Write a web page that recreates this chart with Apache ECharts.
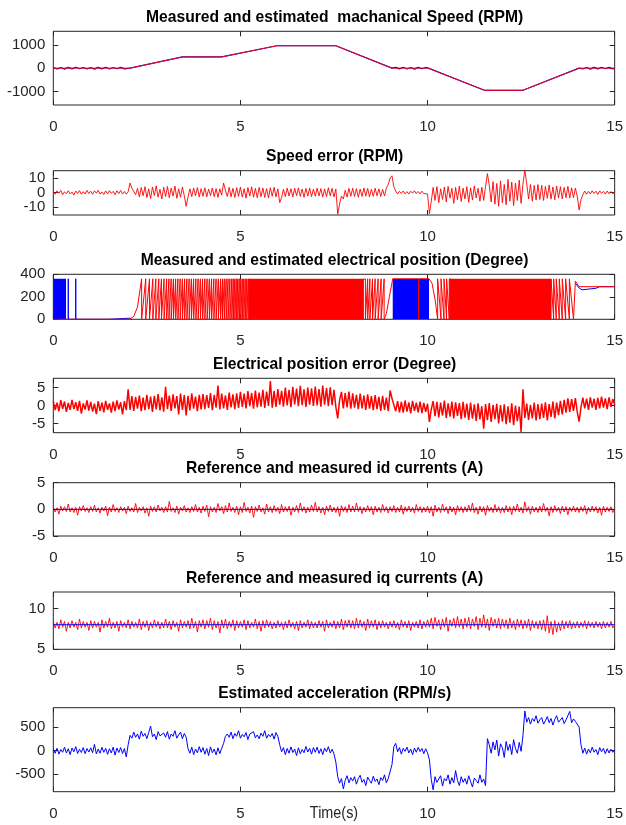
<!DOCTYPE html>
<html><head><meta charset="utf-8">
<script src="https://cdn.jsdelivr.net/npm/echarts@6/dist/echarts.min.js"></script>
<style>html,body{margin:0;padding:0;background:#fff}#c{width:626px;height:825px}</style>
</head><body><div id="c"></div>
<script>
// ---------------- DATA ----------------
const FINE_STEP = 0.05;   // sample step of the dense traces (s)
const timeTicks = [0, 5, 10, 15];

const titles = [
  'Measured and estimated  machanical Speed (RPM)',
  'Speed error (RPM)',
  'Measured and estimated electrical position (Degree)',
  'Electrical position error (Degree)',
  'Reference and measured id currents (A)',
  'Reference and measured iq currents (A)',
  'Estimated acceleration (RPM/s)'
];
const xAxisTitle = 'Time(s)';

const yTicks1 = [-1000, 0, 1000];
const yTicks2 = [-10, 0, 10];
const yTicks3 = [0, 200, 400];
const yTicks4 = [-5, 0, 5];
const yTicks5 = [-5, 0, 5];
const yTicks6 = [5, 10];
const yTicks7 = [-500, 0, 500];

// 1: speed (RPM)
const speedEstTime = [0, 2.05, 3.45, 4.5, 5.97, 7.55, 9.05, 10.02, 11.52, 12.55, 14.05, 15];
const speedEst     = [0, 0, 480, 480, 960, 960, 0, 0, -950, -950, 0, 0];
const speedMeasTime = [0,0.1,0.2,0.3,0.4,0.5,0.6,0.7,0.8,0.9,1.0,1.1,1.2,1.3,1.4,1.5,1.6,1.7,1.8,1.9,2.05,3.45,4.5,5.97,7.55,9.05,9.15,9.25,9.35,9.45,9.55,9.65,9.75,9.85,9.95,10.02,11.52,12.55,14.05,14.15,14.25,14.35,14.45,14.55,14.65,14.75,14.85,14.95,15];
const speedMeas = [30,-35,25,-40,35,-30,40,-25,30,-35,25,-40,35,-30,40,-35,30,-25,35,-30,0,480,480,960,960,0,35,-30,40,-35,30,-40,35,-25,30,0,-950,-950,0,-35,30,-40,35,-30,40,-25,35,-30,0];

// 2: speed error (RPM), every 0.05 s
const speedError = [
 0.8,-1.2,1.1,-0.6,1.4,-1.5,0.5,-0.9,1.2,-1.1,0.3,-1.8,1.0,-0.7,1.3,-1.2,0.6,-1.0,1.5,-0.8,
 0.9,-1.3,1.2,-0.5,1.6,-1.1,0.4,-1.4,1.1,-0.9,1.3,-0.6,0.8,-1.5,1.2,-0.8,1.4,-1.0,0.7,-1.2,
 0.5,6.5,3.0,4.2,-1.5,2.8,-3.0,3.5,-2.2,4.0,-3.5,2.5,-4.2,3.8,-2.0,4.6,-3.2,2.2,-4.5,3.6,
 -2.8,4.2,-3.6,3.0,-2.5,4.4,-4.0,2.6,-3.3,3.8,-2.4,-9.5,-3.0,2.5,-2.8,3.0,-2.2,3.4,-3.1,2.6,
 -2.6,3.2,-3.0,2.4,-2.2,3.1,-2.9,2.7,-3.4,2.5,-1.8,6.5,1.5,-2.8,3.6,-3.0,2.9,-3.5,3.3,-2.7,
 3.8,-3.2,2.6,-3.9,3.4,-2.5,3.9,-3.3,2.8,-3.6,3.5,-2.9,3.1,-3.4,2.7,-3.8,3.3,-2.6,3.6,-3.0,
 2.5,-7.0,-3.5,2.2,-2.8,3.0,-2.4,2.6,-3.1,2.9,-2.2,3.2,-2.7,2.4,-3.3,2.8,-2.5,3.1,-2.9,2.3,
 -2.6,3.0,-2.4,2.7,-3.2,2.5,-2.8,3.3,-2.3,2.9,-3.0,2.4,-15.0,-8.0,-2.5,-4.5,1.5,-3.2,2.8,-2.6,
 3.0,-2.8,2.6,-3.3,2.4,-2.7,3.1,-2.5,2.8,-3.0,2.2,-2.6,2.9,-2.3,2.5,-2.8,2.1,-2.4,3.0,5.5,
 10.0,11.5,4.0,1.0,-1.0,0.8,-0.6,1.0,-0.9,0.6,-1.1,0.9,-0.5,1.2,-0.8,0.7,-1.0,0.9,-0.7,0.6,
 -1.0,-14.5,-6.0,3.5,-5.5,4.0,-7.0,2.5,-4.8,3.8,-6.5,4.2,-3.9,2.8,-7.5,3.5,-5.0,4.4,-6.2,3.0,
 -4.5,4.0,-6.8,3.2,-5.2,4.5,-3.8,2.9,-6.0,3.7,-5.5,4.1,13.0,5.0,-6.5,7.5,-8.0,6.2,-9.5,8.0,
 -7.0,5.5,-8.5,9.0,-6.0,7.2,-9.0,6.5,-5.5,8.5,-7.5,5.8,15.5,6.0,-4.5,5.5,-6.0,4.8,-5.2,5.5,
 -4.8,5.0,-5.5,4.2,-4.0,5.2,-4.6,3.8,-5.0,4.5,-3.8,4.0,-4.4,3.5,-3.6,4.2,-3.9,3.2,-3.5,3.0,
 -2.5,-12.0,-5.0,-1.5,1.0,-1.2,0.8,-1.0,1.2,-0.7,0.9,-1.3,1.1,-0.6,0.8,-1.1,1.0,-0.9,0.7,-1.0,
 0.5
];

// 3: electrical position (degree)
const posRedLeadT = [0, 2.04, 2.15, 2.25];
const posRedLeadV = [0, 0, 25, 110];
const posUpWraps = [2.36,2.47,2.57,2.66,2.74,2.82,2.89,2.96,3.03,3.09,3.15,3.21,3.27,3.33,3.39,3.45,3.51,3.57,3.63,3.69,3.75,3.81,3.87,3.93,3.99,4.05,4.11,4.17,4.23,4.29,4.35,4.41,4.47,4.52,4.57,4.62,4.67,4.72,4.77,4.81,4.85,4.89,4.93,4.97,5.01,5.05,5.09,5.13,5.17,5.21,8.34,8.40,8.46,8.53,8.60,8.68,8.76,8.84];
const posRedMidT = [8.9, 8.98, 9.07, 9.76, 9.76, 9.765, 10.04, 10.12, 10.2, 10.27];
const posRedMidV = [50, 200, 360, 360, 0, 360, 360, 320, 180, 0];
const posDownWraps = [10.27,10.36,10.44,10.51,10.58,13.3,13.37,13.44,13.52,13.6,13.69,13.79];
const posRedTailT = [13.9, 13.95, 14.05, 15];
const posRedTailV = [0, 340, 290, 290];
const posRedDenseStart = [5.21, 10.58];
const posRedDenseEnd   = [8.3, 13.3];
const posWrapTop = 360;
const posBlueBlockStart = [0, 9.07];
const posBlueBlockEnd   = [0.34, 10.04];
const posBlueSpikes = [0.4, 0.6];
const posBlueLowT = [0.6, 1.47, 1.47, 2.04, 2.1];
const posBlueLowV = [0, 0, 10, 10, 0];
const posBlueTailT = [13.95, 14.05, 14.1, 14.13, 14.16, 14.5, 14.6, 15];
const posBlueTailV = [320, 278, 278, 262, 278, 276, 290, 290];

// 4: electrical position error (degree), every 0.05 s
const posError = [
 1.2,-1.3,0.8,-1.6,1.5,-0.9,1.1,-1.8,0.7,-1.2,1.6,-1.0,0.9,-1.5,1.3,-2.3,0.6,-1.1,1.4,-1.4,
 1.0,-1.7,0.5,-2.4,1.2,-1.5,0.8,-1.9,1.3,-1.2,0.6,-2.0,1.1,-1.6,1.4,-1.1,0.9,-2.5,1.2,-1.3,
 4.5,-1.2,2.6,-1.5,2.4,-0.9,2.8,-1.6,2.2,-1.3,3.0,-1.0,2.5,-1.8,2.7,-1.1,3.2,-1.4,2.3,-1.7,
 5.2,-1.0,2.8,-1.5,3.1,-0.8,2.6,-2.5,3.3,-1.2,2.9,-2.8,2.7,-1.4,3.4,-0.9,2.5,-1.6,3.0,-1.1,
 3.2,-1.0,2.9,-0.7,3.5,-1.3,3.0,-0.6,5.6,-1.1,3.3,-0.8,2.8,-1.2,3.6,-0.5,3.1,-1.0,3.4,-0.7,
 3.8,-0.4,3.3,-0.8,4.0,-0.2,3.5,-0.9,4.2,-0.5,3.6,-0.3,4.4,-0.7,3.9,-0.1,6.8,-0.6,4.1,-0.4,
 4.6,0.2,4.1,-0.3,5.0,0.0,4.4,-0.5,5.2,0.3,4.7,-0.2,5.5,0.1,4.5,-0.4,5.0,0.2,4.8,-0.1,
 5.3,0.0,4.6,-0.3,5.6,0.2,4.9,-0.2,5.1,0.1,4.4,-0.4,-3.6,1.5,3.8,-0.8,3.5,-0.5,3.9,-0.9,
 3.4,-0.6,3.0,-1.0,3.3,-0.8,2.8,-1.2,3.1,-0.9,2.6,-1.3,2.9,-1.0,2.4,-1.5,2.7,-1.2,2.2,-1.6,
 4.2,2.0,1.5,-1.6,1.2,-1.9,1.0,-2.0,1.4,-1.7,0.9,-2.2,1.3,-1.5,0.8,-1.9,1.1,-2.1,0.7,-1.8,
 0.5,-4.6,-1.0,1.2,-3.0,1.0,-3.3,0.8,-2.8,1.4,-3.5,0.6,-3.1,1.1,-3.6,0.9,-2.9,0.7,-3.8,1.0,
 -3.4,0.5,-4.0,0.8,-3.7,0.3,-4.3,0.6,-3.9,-0.2,-6.5,0.4,-4.1,0.7,-4.6,0.2,-3.8,0.5,-5.0,0.1,
 -4.5,0.3,-5.2,-0.2,-4.8,0.6,-5.5,0.0,-4.4,-0.3,-7.4,4.5,-3.5,0.5,-4.0,0.2,-3.6,0.8,-4.2,0.4,
 -3.8,0.5,-3.5,0.9,-4.2,0.4,-3.2,1.1,-3.6,0.8,-2.7,1.3,-2.5,1.6,-2.0,2.0,-1.8,1.8,-1.5,2.1,
 -1.8,-4.5,-0.5,2.2,-0.8,1.9,-1.2,2.3,-0.6,1.9,-1.2,2.1,-0.8,2.5,-0.6,2.0,-1.0,2.3,-0.4,1.8,
 0.2
];

// 5: id currents (A), every 0.05 s
const idRef = 0;
const idMeas = [
 0.4,-0.5,0.3,-0.9,0.6,-0.3,0.5,-0.4,1.0,-0.5,0.3,-0.6,0.4,-1.1,0.5,-0.3,0.7,-0.4,0.3,-0.6,
 0.5,-0.4,0.8,-0.5,0.3,-0.7,0.4,-0.3,0.6,-1.2,0.4,-0.5,0.9,-0.4,0.3,-0.6,0.5,-0.3,0.4,-0.8,
 0.6,-0.4,0.3,-0.5,1.1,-0.6,0.4,-0.3,0.5,-0.7,0.3,-1.3,0.6,-0.4,0.5,-0.5,0.8,-0.3,0.4,-0.6,
 0.5,-0.5,1.5,-0.4,0.3,-0.6,0.6,-0.9,0.4,-0.3,0.7,-0.5,0.3,-0.6,0.5,-0.4,0.9,-0.5,0.4,-0.7,
 0.6,-0.4,0.8,-1.4,0.5,-0.5,0.4,-0.6,1.1,-0.3,0.5,-0.8,0.7,-0.5,1.2,-0.4,0.4,-0.6,0.6,-1.0,
 0.5,-0.6,1.3,-0.4,0.4,-0.7,0.6,-1.5,0.5,-0.4,0.8,-0.5,0.3,-0.9,1.0,-0.5,0.5,-0.6,0.7,-0.4,
 0.4,-0.8,0.9,-0.5,0.5,-0.4,0.6,-1.1,0.4,-0.5,0.7,-0.6,1.2,-0.4,0.5,-0.7,0.4,-0.5,0.8,-0.4,
 1.3,-0.5,0.5,-0.7,0.4,-1.0,0.6,-0.4,0.8,-0.5,0.4,-0.6,0.5,-1.3,0.7,-0.4,0.5,-0.6,0.9,-0.5,
 0.6,-0.5,1.2,-0.4,0.5,-0.8,0.4,-0.5,0.7,-0.4,0.5,-1.0,0.6,-0.5,0.4,-0.6,0.9,-0.4,0.5,-0.7,
 0.5,-0.4,0.7,-0.6,0.4,-0.5,0.8,-0.9,0.5,-0.4,0.6,-0.5,0.4,-0.7,0.9,-0.4,0.5,-0.6,0.4,-0.5,
 0.6,-0.7,0.5,-1.3,0.8,-0.5,0.4,-0.6,1.0,-0.4,0.5,-0.8,0.6,-0.5,0.4,-1.0,0.7,-0.4,0.5,-0.6,
 0.5,-0.5,0.8,-0.4,1.2,-0.6,0.4,-0.9,0.6,-0.5,0.5,-1.1,0.7,-0.4,0.4,-0.6,0.9,-0.5,0.5,-0.7,
 0.4,-0.6,0.7,-0.5,0.5,-1.0,0.6,-0.4,1.0,-0.5,0.4,-0.7,1.4,-0.4,0.5,-0.9,0.6,-0.5,0.4,-0.6,
 0.6,-0.5,1.1,-0.4,0.4,-1.2,0.5,-0.6,0.7,-0.4,0.4,-0.8,0.6,-0.5,0.5,-1.0,0.4,-0.4,0.6,-0.5,
 0.4,-0.6,0.5,-0.4,0.7,-0.9,0.4,-0.5,0.6,-0.4,0.5,-0.7,0.4,-1.1,0.6,-0.5,0.4,-0.4,0.5,-0.6,
 0.1
];

// 6: iq currents (A), every 0.05 s
const iqRef = 8;
const iqMeas = [
 8.4,7.6,8.3,7.5,8.6,7.7,8.4,7.2,8.3,7.6,8.5,7.7,8.3,7.4,8.7,7.6,8.4,7.7,8.3,7.3,
 8.5,7.6,8.4,7.7,8.3,7.1,8.6,7.6,8.4,7.7,8.8,7.5,8.3,7.6,8.4,7.2,8.5,7.7,8.3,7.6,
 8.6,7.5,8.4,7.7,8.3,7.6,8.7,7.4,8.4,7.7,8.5,7.3,8.3,7.6,8.6,7.7,8.4,7.5,8.3,7.6,
 8.7,7.6,8.4,7.4,8.5,7.7,8.3,7.2,8.6,7.6,8.4,7.7,8.5,7.5,8.8,7.6,8.4,7.1,8.5,7.7,
 8.6,7.5,8.5,7.7,8.8,7.4,8.5,7.6,8.4,7.0,8.6,7.6,8.7,7.5,8.4,7.7,8.6,7.3,8.5,7.6,
 8.4,7.7,8.6,7.4,8.5,7.6,8.3,7.7,8.7,7.5,8.4,7.2,8.5,7.6,8.6,7.7,8.4,7.5,8.3,7.6,
 8.5,7.7,8.3,7.4,8.4,7.6,8.6,7.7,8.3,7.5,8.4,7.3,8.5,7.6,8.3,7.7,8.6,7.5,8.4,7.6,
 8.3,7.6,8.5,7.7,8.4,7.2,8.6,7.6,8.3,7.7,8.5,7.5,8.4,7.6,8.7,7.4,8.5,7.7,8.6,7.6,
 8.5,7.5,8.8,7.6,8.6,7.7,8.4,7.3,8.7,7.6,8.5,7.7,8.6,7.4,8.4,7.6,8.5,7.7,8.3,7.5,
 8.4,7.7,8.5,7.6,8.3,7.4,8.6,7.7,8.4,7.6,8.5,7.3,8.3,7.7,8.4,7.6,8.6,7.5,8.4,7.7,
 8.6,7.7,8.8,7.5,8.9,7.8,8.6,7.4,8.7,7.7,8.9,7.2,8.6,7.8,8.8,7.6,9.0,7.7,8.7,7.5,
 8.8,7.7,8.9,7.5,8.7,7.8,9.0,7.4,8.8,7.7,9.2,7.6,8.7,7.3,8.9,7.8,8.7,7.6,8.8,7.5,
 8.7,7.7,8.6,7.5,8.8,7.6,8.5,7.4,8.7,7.7,8.6,7.5,8.5,7.6,8.7,7.3,8.5,7.6,8.4,7.5,
 8.5,7.4,8.6,7.2,9.1,7.0,8.4,6.8,8.5,7.1,8.3,7.3,8.5,7.5,8.4,7.6,8.5,7.5,8.3,7.6,
 8.4,7.6,8.3,7.7,8.5,7.5,8.4,7.7,8.3,7.6,8.4,7.7,8.3,7.5,8.4,7.6,8.3,7.7,8.4,7.6,
 8.0
];

// 7: estimated acceleration (RPM/s), every 0.05 s
const accel = [
 30,-60,45,-80,20,-40,70,-55,35,-90,50,-30,80,-65,25,-45,60,-70,40,-35,
 55,-50,130,-75,30,-60,65,-40,45,-85,35,-55,70,-100,50,-45,60,-65,40,-140,
 120,320,260,390,280,350,240,410,300,360,250,380,520,290,350,230,400,310,270,370,
 280,400,240,350,300,420,260,330,390,250,360,280,40,-60,70,-90,30,-50,80,-40,
 60,-80,40,-110,75,-50,30,-95,55,-70,45,150,300,350,280,390,250,360,300,420,
 260,340,290,380,230,350,310,400,270,330,250,370,300,420,260,340,290,360,240,380,
 300,120,-30,60,-90,40,-60,75,-45,30,-110,55,-70,20,-50,85,-35,45,-80,60,
 -40,70,-65,35,-90,50,-30,80,-55,25,-75,-250,-560,-700,-600,-820,-640,-540,-690,-580,
 -650,-560,-720,-600,-530,-680,-620,-750,-570,-640,-700,-550,-660,-610,-730,-580,-640,-520,-690,-600,
 -620,-300,80,150,-30,60,-80,45,-20,70,-55,30,-90,50,-40,65,-25,40,-70,35,
 -50,-200,-620,-840,-560,-680,-700,-540,-760,-600,-650,-520,-720,-580,-690,-430,-640,-750,-560,-680,
 -600,-720,-540,-660,-780,-590,-640,-700,-520,-680,-610,-750,250,120,-60,180,10,220,-120,140,
 60,-150,190,0,130,-90,230,40,-60,170,-20,320,840,600,700,560,680,620,740,580,
 650,700,560,630,720,590,680,540,660,740,600,630,700,570,650,610,830,590,670,620,
 640,500,120,-60,50,-80,30,-50,70,-40,20,-90,60,-30,45,-70,35,-55,25,-40,
 10
];

// ---------------- LAYOUT / STYLE ----------------
const FONT = '"Liberation Sans", Arial, sans-serif';
const RED = '#ff0000', BLUE = '#0000ff', AX = '#262626';
const LEFT = 53.3, RIGHT = 10;
const panels = [
  {top: 31.3, h: 73.7, min: -1580, max: 1580, ticks: yTicks1},
  {top: 170.7, h: 44.3, min: -15.5, max: 15, ticks: yTicks2, split: true},
  {top: 274.3, h: 45, min: 0, max: 400, ticks: yTicks3},
  {top: 378.3, h: 54.4, min: -7.6, max: 7.6, ticks: yTicks4},
  {top: 482.7, h: 53.3, min: -5, max: 5, ticks: yTicks5},
  {top: 592, h: 57.3, min: 5, max: 12, ticks: yTicks6},
  {top: 707.7, h: 84, min: -880, max: 910, ticks: yTicks7}
];
const labelStyle = {fontFamily: FONT, fontSize: 15, color: AX, lineHeight: 10, hideOverlap: false,
  showMinLabel: true, showMaxLabel: true, interval: 0, formatter: v => String(v)};

const grid = [], xAxis = [], yAxis = [], extraY = [], graphic = [];
panels.forEach((p, i) => {
  grid.push({left: LEFT, right: RIGHT, top: p.top, height: p.h, show: true,
    borderColor: AX, borderWidth: 1, backgroundColor: '#fff', containLabel: false});
  xAxis.push({type: 'value', gridIndex: i, min: 0, max: 15, interval: 5,
    axisLine: {show: false, onZero: false}, splitLine: {show: false},
    axisTick: {inside: true, length: 5, lineStyle: {color: AX}, customValues: timeTicks},
    axisLabel: Object.assign({margin: 17, customValues: timeTicks}, labelStyle)});
  xAxis.push({type: 'value', gridIndex: i, position: 'top', min: 0, max: 15, interval: 5,
    axisLine: {show: false, onZero: false}, splitLine: {show: false}, axisLabel: {show: false},
    axisTick: {inside: true, length: 5, lineStyle: {color: AX}, customValues: timeTicks}});
  // tightly spaced labels are shared over two overlapping left axes so none gets hidden
  const mainLabels = p.split ? p.ticks.filter((v, k) => k % 2 === 0) : p.ticks;
  yAxis.push({type: 'value', gridIndex: i, min: p.min, max: p.max,
    axisLine: {show: false, onZero: false}, splitLine: {show: false},
    axisTick: {inside: true, length: 5, lineStyle: {color: AX}, customValues: p.ticks},
    axisLabel: Object.assign({margin: 8, customValues: mainLabels}, labelStyle)});
  yAxis.push({type: 'value', gridIndex: i, position: 'right', min: p.min, max: p.max,
    axisLine: {show: false, onZero: false}, splitLine: {show: false}, axisLabel: {show: false},
    axisTick: {inside: true, length: 5, lineStyle: {color: AX}, customValues: p.ticks}});
  if (p.split) {
    extraY.push({type: 'value', gridIndex: i, position: 'left', offset: 0, min: p.min, max: p.max,
      axisLine: {show: false, onZero: false}, splitLine: {show: false}, axisTick: {show: false},
      axisLabel: Object.assign({margin: 8, customValues: p.ticks.filter((v, k) => k % 2 === 1)}, labelStyle)});
  }
  graphic.push({type: 'text', x: LEFT + (626 - LEFT - RIGHT) / 2, y: p.top - 14, scaleX: 0.92,
    style: {text: titles[i], fill: '#000', font: 'bold 17px ' + FONT,
      align: 'center', verticalAlign: 'middle', textAlign: 'center', textVerticalAlign: 'middle'}});
});
extraY.forEach(a => yAxis.push(a));
graphic.push({type: 'text', x: 334, y: 814, scaleX: 0.9,
  style: {text: xAxisTitle, fill: AX, font: '16px ' + FONT, align: 'center', verticalAlign: 'middle',
    textAlign: 'center', textVerticalAlign: 'middle'}});

const pairs = (ts, vs) => ts.map((t, k) => [t, vs[k]]);
const sampled = (vs, step) => vs.map((v, k) => [+(k * step).toFixed(3), v]);
function line(i, data, color, w, extra) {
  return Object.assign({type: 'line', xAxisIndex: 2 * i, yAxisIndex: 2 * i, data: data,
    symbol: 'none', silent: true, animation: false, clip: true,
    lineStyle: {color: color, width: w}, z: 2}, extra || {});
}

// position traces built from the read-off wrap instants
const redPos = pairs(posRedLeadT, posRedLeadV);
posUpWraps.forEach(w => { redPos.push([w, posWrapTop]); redPos.push([w, 0]); });
pairs(posRedMidT, posRedMidV).forEach(d => redPos.push(d));
posDownWraps.forEach(w => { redPos.push([w, 0]); redPos.push([w, posWrapTop]); });
pairs(posRedTailT, posRedTailV).forEach(d => redPos.push(d));
const bluePosSpikes = [];
posBlueSpikes.forEach(t => { bluePosSpikes.push([t, 0], [t, posWrapTop], [t, 0]); });

const series = [
  // 1
  line(0, pairs(speedMeasTime, speedMeas), BLUE, 1.2),
  line(0, pairs(speedEstTime, speedEst), RED, 1),
  // 2
  line(1, sampled(speedError, FINE_STEP), RED, 0.9),
  // 3
  ...posBlueBlockStart.map((a, k) => line(2, [[a, posWrapTop], [posBlueBlockEnd[k], posWrapTop]], BLUE, 0,
      {areaStyle: {color: BLUE, opacity: 1}})),
  line(2, bluePosSpikes, BLUE, 1),
  line(2, pairs(posBlueLowT, posBlueLowV), BLUE, 1),
  line(2, pairs(posBlueTailT, posBlueTailV), BLUE, 1),
  line(2, redPos, RED, 1),
  ...posRedDenseStart.map((a, k) => line(2, [[a, posWrapTop], [posRedDenseEnd[k], posWrapTop]], RED, 0,
      {areaStyle: {color: RED, opacity: 1}})),
  // 4
  line(3, sampled(posError, FINE_STEP), RED, 1.5),
  // 5
  line(4, sampled(idMeas, FINE_STEP), RED, 0.9),
  line(4, [[0, idRef], [15, idRef]], BLUE, 1, {z: 3}),
  // 6
  line(5, sampled(iqMeas, FINE_STEP), RED, 0.9),
  line(5, [[0, iqRef], [15, iqRef]], BLUE, 1, {z: 3}),
  // 7
  line(6, sampled(accel, FINE_STEP), BLUE, 1)
];

const chart = echarts.init(document.getElementById('c'), null, {renderer: 'canvas'});
chart.setOption({animation: false, backgroundColor: '#fff', grid, xAxis, yAxis, series, graphic});
</script></body></html>
